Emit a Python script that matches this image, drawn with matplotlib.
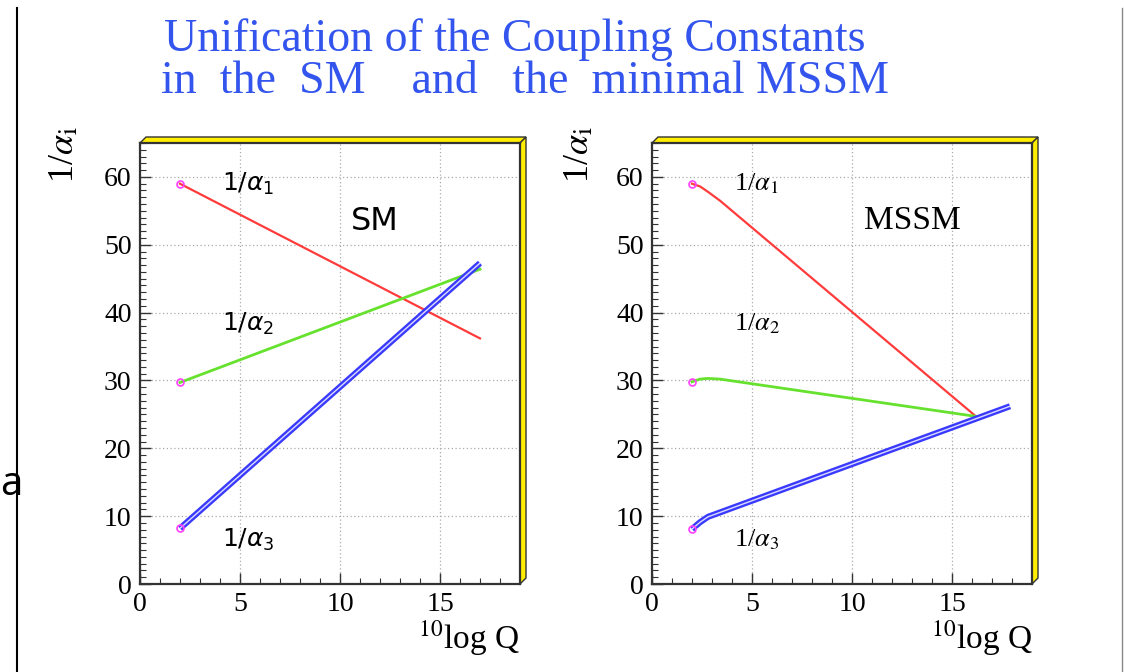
import matplotlib.pyplot as plt
from matplotlib.patches import Polygon
from matplotlib.lines import Line2D
from matplotlib.ticker import MultipleLocator

# SM running couplings
x_sm = [2, 17]
inv_a1_sm = [59.0, 36.2]
inv_a2_sm = [29.7, 46.4]
inv_a3_sm = [8.2, 47.3]

# MSSM running couplings
x_mssm_12 = [2.0, 2.4, 2.8, 3.4, 16.2]
inv_a1_mssm = [59.0, 58.6, 57.8, 56.5, 24.7]
inv_a2_mssm = [29.8, 30.2, 30.3, 30.2, 24.7]
x_mssm_3 = [2.0, 2.4, 2.8, 17.9]
inv_a3_mssm = [8.1, 9.1, 9.9, 26.2]

title1 = 'Unification of the Coupling Constants'
title2 = 'in  the  SM    and   the  minimal MSSM'

RED = '#ff3b3b'
GREEN = '#66e22e'
BLUE = '#3a3aff'
MAG = '#ff40ff'
SERIF = ['Liberation Serif', 'DejaVu Serif']

fig = plt.figure(figsize=(11.24, 6.72), dpi=100)
W, H = 1124, 672

def setup(ax):
    ax.set_xlim(0, 19)
    ax.set_ylim(0, 65)
    ax.xaxis.set_major_locator(MultipleLocator(5))
    ax.xaxis.set_minor_locator(MultipleLocator(1))
    ax.yaxis.set_major_locator(MultipleLocator(10))
    ax.yaxis.set_minor_locator(MultipleLocator(1))
    ax.tick_params(which='both', direction='in', top=False, right=False,
                   colors='#333333', labelcolor='black')
    ax.tick_params(which='major', length=8, width=1, labelsize=20, pad=6)
    ax.tick_params(which='minor', length=4, width=0.8)
    for lab in ax.get_xticklabels() + ax.get_yticklabels():
        lab.set_family(SERIF)
    ax.grid(True, which='major', color='#aaaaaa', linestyle=(0, (1, 2)), lw=0.9)
    for sp in ax.spines.values():
        sp.set_linewidth(1.6)
        sp.set_color('#333333')
    ax.set_axisbelow(True)
    # yellow 3D frame
    dx, dy = 6 / 380, 6 / 441
    top = Polygon([(0, 1), (1, 1), (1 + dx, 1 + dy), (dx, 1 + dy)], closed=True,
                  transform=ax.transAxes, clip_on=False, fc='#ffee00', ec='#333333', lw=1)
    right = Polygon([(1, 0), (1 + dx, dy), (1 + dx, 1 + dy), (1, 1)], closed=True,
                    transform=ax.transAxes, clip_on=False, fc='#ffee00', ec='#333333', lw=1)
    ax.add_patch(top)
    ax.add_patch(right)

def blue_line(ax, x, y):
    ax.plot(x, y, color=BLUE, lw=4.4, solid_capstyle='butt', zorder=3)
    ax.plot(x, y, color='#dcdcff', lw=1.0, solid_capstyle='butt', zorder=4)

ax1 = fig.add_axes([140 / W, 1 - 584 / H, 380 / W, 441 / H])
ax2 = fig.add_axes([652 / W, 1 - 584 / H, 380 / W, 441 / H])
setup(ax1)
setup(ax2)

# SM panel
ax1.plot(x_sm, inv_a1_sm, color=RED, lw=1.6, zorder=3)
ax1.plot(x_sm, inv_a2_sm, color=GREEN, lw=2, zorder=3)
blue_line(ax1, x_sm, inv_a3_sm)
ax1.plot([x_sm[0]] * 3, [inv_a1_sm[0], inv_a2_sm[0], inv_a3_sm[0]], 'o', ms=5,
         mfc='none', mec=MAG, mew=1.2, zorder=5)
for y, t in [(58.9, r'$1/\alpha_1$'), (38.3, r'$1/\alpha_2$'), (6.5, r'$1/\alpha_3$')]:
    ax1.text(4.1, y, t, fontsize=18, va='center', ha='left', math_fontfamily='dejavusans')
ax1.text(11.75, 53.5, 'SM', fontsize=23, ha='center', va='center', family='DejaVu Sans')

# MSSM panel
ax2.plot(x_mssm_12, inv_a1_mssm, color=RED, lw=1.6, zorder=3)
ax2.plot(x_mssm_12, inv_a2_mssm, color=GREEN, lw=2, zorder=3)
blue_line(ax2, x_mssm_3, inv_a3_mssm)
ax2.plot([x_mssm_12[0]] * 3, [inv_a1_mssm[0], inv_a2_mssm[0], inv_a3_mssm[0]], 'o', ms=5,
         mfc='none', mec=MAG, mew=1.2, zorder=5)
for y, t in [(59.0, r'1/$\alpha_1$'), (38.3, r'1/$\alpha_2$'), (6.5, r'1/$\alpha_3$')]:
    ax2.text(4.1, y, t, fontsize=19, va='center', ha='left', family=SERIF,
             math_fontfamily='stix')
ax2.text(13.0, 53.5, 'MSSM', fontsize=24, ha='center', va='center', family=SERIF)

# axis titles
for xl, xr in [(65, 520), (580, 1033)]:
    fig.text(xl / W, 1 - 155 / H, r'1/$\alpha_{\rm i}$', rotation=90, fontsize=26,
             ha='center', va='center', family=SERIF, math_fontfamily='stix')
    fig.text(xr / W, 1 - 638 / H, r'$^{10}$log Q', fontsize=24, ha='right', va='center',
             family=SERIF, math_fontfamily='stix')

fig.text(515 / W, 1 - 40 / H, title1, fontsize=33, color='#3355ee', ha='center',
         va='center', family=SERIF)
fig.text(525 / W, 1 - 82 / H, title2, fontsize=33, color='#3355ee', ha='center',
         va='center', family=SERIF)

# page edges and stray letter
fig.add_artist(Line2D([17 / W, 17 / W], [0, 1 - 8 / H], color='black', lw=1.5))
fig.add_artist(Line2D([1122 / W, 1122 / W], [0, 1 - 8 / H], color='#888888', lw=1))
fig.text(0.5 / W, 1 - 485 / H, 'a', fontsize=29, ha='left', va='center', family='Open Sans')

fig.savefig('out.png', dpi=100)
